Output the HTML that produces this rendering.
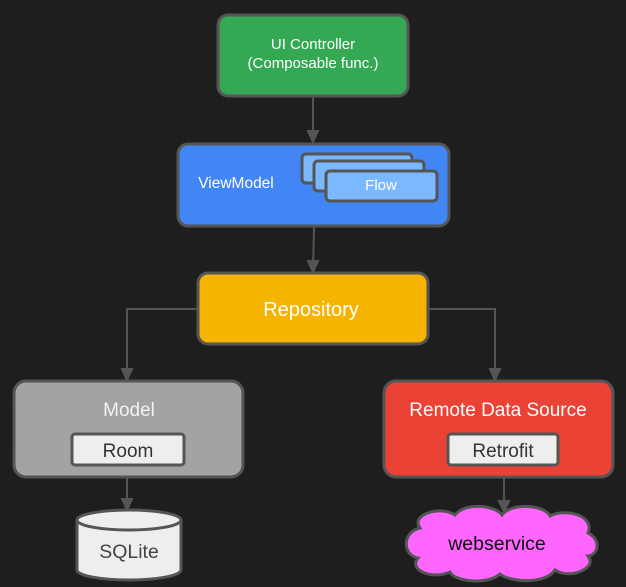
<!DOCTYPE html>
<html><head><style>html,body{margin:0;padding:0;background:#1e1e1e;}svg{display:block}text{font-family:"Liberation Sans",sans-serif;}</style></head>
<body>
<svg width="626" height="587" viewBox="0 0 626 587" xmlns="http://www.w3.org/2000/svg">
<rect width="626" height="587" fill="#1e1e1e"/>
<g stroke="#555" stroke-width="2" fill="none">
<line x1="313" y1="97" x2="313" y2="142"/>
<path d="M313,131 l-5,0 l5,11 l5,-11z" fill="#555"/>
<line x1="314" y1="227" x2="313" y2="272"/>
<path d="M313,261 l-5,0 l5,11 l5,-11z" fill="#555"/>
<polyline points="198,309 127,309 127,380"/>
<path d="M127,369 l-5,0 l5,11 l5,-11z" fill="#555"/>
<polyline points="428,309 495,309 495,380"/>
<path d="M495,369 l-5,0 l5,11 l5,-11z" fill="#555"/>
<line x1="127" y1="465" x2="127" y2="510"/>
<path d="M127,499 l-5,0 l5,11 l5,-11z" fill="#555"/>
<line x1="504" y1="465" x2="504" y2="512"/>
<path d="M504,501 l-5,0 l5,11 l5,-11z" fill="#555"/>
</g>
<g stroke="#555" stroke-width="3">
<rect x="218" y="15" width="190" height="81" rx="10" fill="#34a853"/>
<rect x="178" y="144" width="271" height="82" rx="10" fill="#4285f4"/>
<rect x="302" y="154" width="110" height="29" rx="4" fill="#7ab8ff"/>
<rect x="314" y="161" width="110" height="30" rx="4" fill="#7ab8ff"/>
<rect x="326" y="171" width="111" height="30" rx="4" fill="#7ab8ff"/>
<rect x="198" y="273" width="230" height="71" rx="10" fill="#f4b400"/>
<rect x="14" y="381" width="229" height="96" rx="12" fill="#a3a3a3"/>
<rect x="72" y="434" width="112" height="31" rx="3" fill="#eeeeee"/>
<rect x="384" y="381" width="229" height="96" rx="12" fill="#ea4335"/>
<rect x="448" y="434" width="110" height="31" rx="3" fill="#eeeeee"/>
<path d="M77,520 L77,570 A52,10 0 0 0 181,570 L181,520" fill="#eeeeee"/>
<ellipse cx="129" cy="520" rx="52" ry="10" fill="#eeeeee"/>
<path d="M420,528 C410,515 440,505 455,515 C465,502 495,505 502,515 C512,502 545,505 550,516 C565,508 595,515 588,533 C602,540 598,555 588,556 C598,568 570,580 555,570 C545,585 510,582 500,574 C488,585 455,582 450,572 C432,580 408,570 418,558 C402,555 402,532 420,528 Z" fill="#ff66ff"/>
</g>
<g fill="#fff" text-anchor="middle">
<text x="313" y="49" font-size="15">UI Controller</text>
<text x="313" y="68" font-size="15">(Composable func.)</text>
<text x="236" y="188" font-size="15.5">ViewModel</text>
<text x="381" y="190" font-size="15">Flow</text>
<text x="311" y="316" font-size="20">Repository</text>
<text x="129" y="416" font-size="19" fill="#f2f2f2">Model</text>
<text x="498" y="416" font-size="19">Remote Data Source</text>
<text x="128" y="457" font-size="19" fill="#333">Room</text>
<text x="503" y="457" font-size="19" fill="#333">Retrofit</text>
<text x="129" y="558" font-size="19.5" fill="#444">SQLite</text>
<text x="497" y="550" font-size="19.5" fill="#111">webservice</text>
</g>
</svg>
</body></html>
